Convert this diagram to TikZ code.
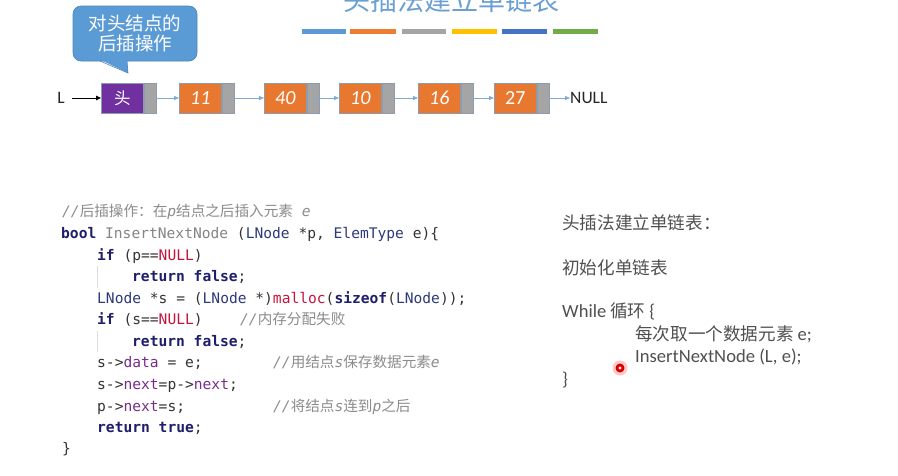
\documentclass[tikz,border=0pt]{standalone}
\usepackage{fontspec}
\setmonofont{DejaVu Sans Mono}
\newfontfamily\cjk{Noto Sans CJK SC}
\newfontfamily\carl{Carlito}
\usetikzlibrary{arrows.meta}
\definecolor{titleC}{HTML}{6A9FD3}
\definecolor{barA}{HTML}{5B9BD5}
\definecolor{barB}{HTML}{ED7D31}
\definecolor{barC}{HTML}{A5A5A5}
\definecolor{barD}{HTML}{FFC000}
\definecolor{barE}{HTML}{4472C4}
\definecolor{barF}{HTML}{70AD47}
\definecolor{calloutC}{HTML}{5B9BD5}
\definecolor{calloutB}{HTML}{4A86BE}
\definecolor{purpleC}{HTML}{7030A0}
\definecolor{orangeC}{HTML}{E8782F}
\definecolor{grayC}{HTML}{A5A5A5}
\definecolor{nodeB}{HTML}{8C9BAE}
\definecolor{linkC}{HTML}{7FA8D2}
\definecolor{kwC}{HTML}{1E1E6A}
\definecolor{fnC}{HTML}{858585}
\definecolor{tyC}{HTML}{2E3A78}
\definecolor{redC}{HTML}{C8143C}
\definecolor{fldC}{HTML}{7A2C8C}
\definecolor{plainC}{HTML}{333333}
\definecolor{commC}{HTML}{8C8C8C}
\definecolor{guideC}{HTML}{DDDDDD}
\definecolor{rtC}{HTML}{505050}
\newcommand\kw[1]{{\bfseries\color{kwC}#1}}
\newcommand\fn[1]{{\color{fnC}#1}}
\newcommand\ty[1]{{\color{tyC}#1}}
\newcommand\nl[1]{{\color{redC}#1}}
\newcommand\fld[1]{{\color{fldC}#1}}
\begin{document}
\begin{tikzpicture}[x=1pt,y=-1pt,
  databox/.style={draw=nodeB, line width=0.6pt, minimum width=42pt, minimum height=30pt, inner sep=0pt, anchor=west, fill=orangeC, text=white, font=\carl\itshape\fontsize{20}{20}\selectfont},
  ptrbox/.style={draw=nodeB, line width=0.6pt, fill=grayC, minimum width=12pt, minimum height=30pt, inner sep=0pt, anchor=west},
  link/.style={draw=linkC, line width=0.8pt, -{Triangle[length=5pt,width=4pt]}},
  codeln/.style={anchor=west, inner sep=0pt, font=\ttfamily\fontsize{14.6}{14.6}\selectfont, text=plainC, text height=11pt, text depth=3pt},
  commln/.style={codeln, text=commC, font=\ttfamily\itshape\fontsize{14.6}{14.6}\selectfont},
  rt/.style={anchor=west, inner sep=0pt, text=rtC, font=\cjk\fontsize{17.6}{17.6}\selectfont, text height=12pt, text depth=3pt},
  rtl/.style={rt, font=\carl\fontsize{18.6}{18.6}\selectfont},
  plainlbl/.style={inner sep=0pt, text=black!85, font=\carl\fontsize{17.5}{17.5}\selectfont}
]
\useasboundingbox (0,0) rectangle (898,475);
\clip (0,0) rectangle (898,475);
\fill[white] (0,0) rectangle (898,475);

% title
\node[font=\cjk\fontsize{27}{27}\selectfont, text=titleC, inner sep=0pt] (title) at (451,0) {头插法建立单链表};
\fill[barA] (302,29) rectangle (346,34);
\fill[barB] (350,29) rectangle (396,34);
\fill[barC] (402,29) rectangle (446,34);
\fill[barD] (452,29) rectangle (497,34);
\fill[barE] (502,29) rectangle (547,34);
\fill[barF] (553,29) rectangle (598,34);

% callout
\node[fill=calloutC, draw=calloutB, line width=0.6pt, rounded corners=8pt, minimum width=124pt, minimum height=55pt, inner sep=0pt, align=center, text=white, font=\cjk\fontsize{18.5}{20.5}\selectfont] (call) at (135,33.5) {对头结点的\\后插操作};
\coordinate (tip) at (128,73);
\fill[calloutC] (100,59.5) -- (tip) -- (127,59.5) -- cycle;
\draw[calloutB, line width=0.6pt] (100,61) -- (tip) -- (127,61);

% list
\node[plainlbl] (L) at (61,98) {L};
\node[databox, fill=purpleC, font=\cjk\fontsize{16.5}{16.5}\selectfont] (h) at (101,98) {头};
\node[ptrbox] (hp) at (h.east) {};
\node[databox] (n1) at (179,98) {11};
\node[ptrbox] (p1) at (n1.east) {};
\node[databox] (n2) at (264,98) {40};
\node[ptrbox] (p2) at (n2.east) {};
\node[databox] (n3) at (339,98) {10};
\node[ptrbox] (p3) at (n3.east) {};
\node[databox] (n4) at (418,98) {16};
\node[ptrbox] (p4) at (n4.east) {};
\node[databox, font=\carl\fontsize{20}{20}\selectfont] (n5) at (494,98) {27};
\node[ptrbox] (p5) at (n5.east) {};
\node[plainlbl, anchor=west] (null) at (570,98) {NULL};

\draw[black, line width=1pt, -{Triangle[length=5pt,width=4.5pt]}] (72,98) -- (h.west);
\draw[link] (hp.east) -- (n1.west);
\draw[link] (p1.east) -- (n2.west);
\draw[link] (p2.center) -- (n3.west);
\draw[link] (p3.east) -- (n4.west);
\draw[link] (p4.east) -- (n5.west);
\draw[link] (p5.east) -- (null.west);

% code
\node[commln] (c1) at (62,212) {//{\cjk\upshape 后插操作：在}p{\cjk\upshape 结点之后插入元素} e};
\node[codeln] (c2) at (61,234) {\kw{bool} \fn{InsertNextNode} (\ty{LNode} *p, \ty{ElemType} e)\{};
\node[codeln] (c3) at (97,256) {\kw{if} (p==\nl{NULL})};
\node[codeln] (c4) at (132,277) {\kw{return} \kw{false};};
\node[codeln] (c5) at (97,299) {\ty{LNode} *s = (\ty{LNode} *)\nl{malloc}(\kw{sizeof}(\ty{LNode}));};
\node[codeln] (c6) at (97,320) {\kw{if} (s==\nl{NULL})};
\node[commln] (m6) at (240,320) {//{\cjk\upshape 内存分配失败}};
\node[codeln] (c7) at (132,342) {\kw{return} \kw{false};};
\node[codeln] (c8) at (97,363) {s->\fld{data} = e;};
\node[commln] (m8) at (273,363) {//{\cjk\upshape 用结点}s{\cjk\upshape 保存数据元素}e};
\node[codeln] (c9) at (97,385) {s->\fld{next}=p->\fld{next};};
\node[codeln] (c10) at (97,407) {p->\fld{next}=s;};
\node[commln] (m10) at (273,407) {//{\cjk\upshape 将结点}s{\cjk\upshape 连到}p{\cjk\upshape 之后}};
\node[codeln] (c11) at (97,428) {\kw{return} \kw{true};};
\node[codeln] (c12) at (62,449) {\}};
\draw[guideC, line width=0.6pt] (97.5,266) -- (97.5,288);
\draw[guideC, line width=0.6pt] (97.5,331) -- (97.5,352);

% right text
\node[rt] (r1) at (562,225) {头插法建立单链表：};
\node[rt] (r2) at (562,270) {初始化单链表};
\node[rt] (r3) at (562,313) {{\carl\fontsize{18.6}{18.6}\selectfont While} 循环 {\carl\fontsize{18.6}{18.6}\selectfont\{}};
\node[rt] (r4) at (635,336) {每次取一个数据元素 {\carl\fontsize{18.6}{18.6}\selectfont e;}};
\node[rtl] (r5) at (635,358) {InsertNextNode (L, e);};
\node[rtl] (r6) at (562,381) {\}};

% pointer dot
\fill[red!60, opacity=0.35] (620,368) circle (7.5);
\fill[red!85!black] (620,368) circle (4.5);
\fill[white] (620,368) circle (1.6);
\end{tikzpicture}
\end{document}
